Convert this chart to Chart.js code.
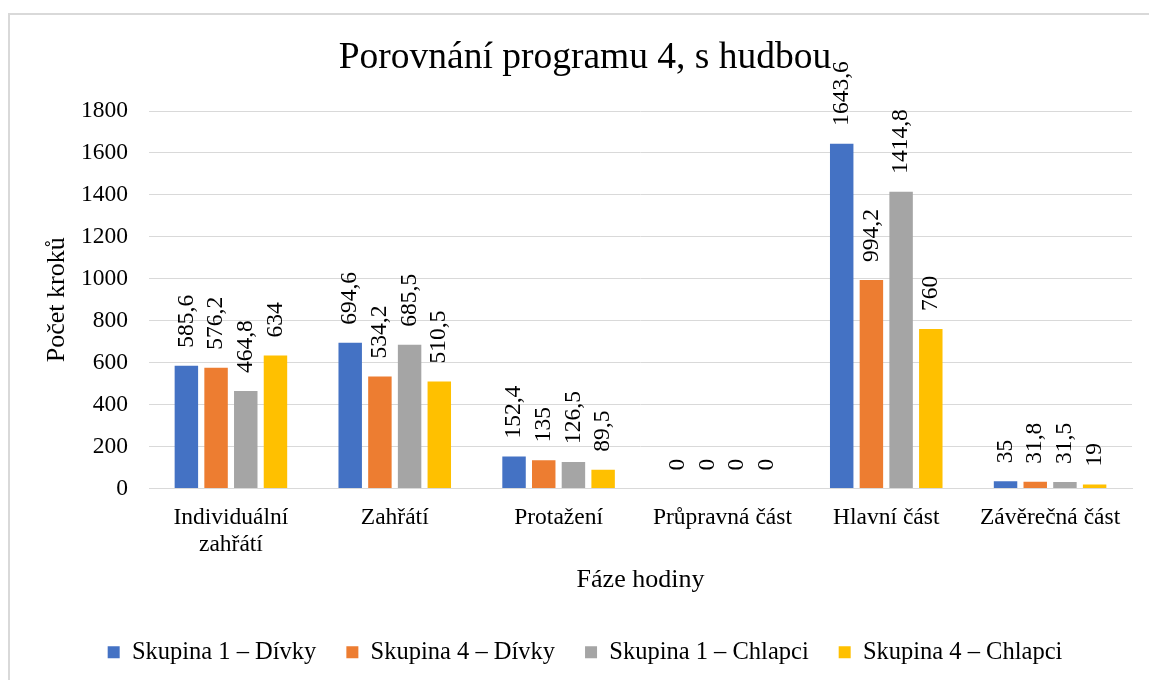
<!DOCTYPE html>
<html lang="cs">
<head>
<meta charset="utf-8">
<title>Porovnání programu 4, s hudbou</title>
<script src="https://cdn.jsdelivr.net/npm/chart.js@4.4.0/dist/chart.umd.min.js"></script>
<style>
  html, body { margin: 0; padding: 0; background: #fff; overflow: hidden; }
  #frame { position: absolute; left: 8px; top: 13px; width: 1160px; height: 700px; border: 2px solid #d9d9d9; }
  #chart { position: absolute; left: 9px; top: 14px; }
</style>
</head>
<body>
<div id="frame"></div>
<canvas id="chart" width="1152" height="666"></canvas>
<script>
// fáze hodiny a průměrný počet kroků pro jednotlivé skupiny
const phases = [["Individuální", "zahřátí"], "Zahřátí", "Protažení", "Průpravná část", "Hlavní část", "Závěrečná část"];
const girls1 = [585.6, 694.6, 152.4, 0, 1643.6, 35];
const girls4 = [576.2, 534.2, 135, 0, 994.2, 31.8];
const boys1 = [464.8, 685.5, 126.5, 0, 1414.8, 31.5];
const boys4 = [634, 510.5, 89.5, 0, 760, 19];
const seriesNames = ["Skupina 1 – Dívky", "Skupina 4 – Dívky", "Skupina 1 – Chlapci", "Skupina 4 – Chlapci"];
const seriesColors = ["#4472C4", "#ED7D31", "#A5A5A5", "#FFC000"];
const yMin = 0, yMax = 1800, yStep = 200;

const FONT = "'Liberation Serif', 'Times New Roman', serif";
Chart.defaults.font.family = FONT;
Chart.defaults.color = "#000";

// hodnoty nad sloupci, otočené o 90°
const barValueLabels = {
  id: "barValueLabels",
  afterDatasetsDraw(chart) {
    const ctx = chart.ctx;
    ctx.save();
    ctx.font = "23.5px " + FONT;
    ctx.fillStyle = "#000";
    ctx.textAlign = "left";
    ctx.textBaseline = "middle";
    chart.data.datasets.forEach((ds, i) => {
      chart.getDatasetMeta(i).data.forEach((bar, j) => {
        const txt = String(ds.data[j]).replace(".", ",");
        ctx.save();
        ctx.translate(bar.x, bar.y - 18);
        ctx.rotate(-Math.PI / 2);
        ctx.fillText(txt, 0, 0);
        ctx.restore();
      });
    });
    ctx.restore();
  }
};

const allSeries = [girls1, girls4, boys1, boys4];

new Chart(document.getElementById("chart"), {
  type: "bar",
  data: {
    labels: phases,
    datasets: allSeries.map((values, i) => ({
      label: seriesNames[i],
      data: values,
      backgroundColor: seriesColors[i],
      yAxisID: "y",
      categoryPercentage: 0.725,
      barPercentage: 0.79
    }))
  },
  options: {
    responsive: false,
    animation: false,
    devicePixelRatio: 1,
    layout: { padding: { left: 0, right: 0, top: 0, bottom: 5.5 } },
    plugins: {
      title: {
        display: true,
        text: "Porovnání programu 4, s hudbou",
        font: { size: 37.5, weight: "normal" },
        padding: { top: 22, bottom: 30 }
      },
      legend: {
        position: "bottom",
        labels: { boxWidth: 12, boxHeight: 12, padding: 30, font: { size: 24.5 } }
      },
      tooltip: { enabled: false }
    },
    scales: {
      x: {
        grid: { display: false, drawTicks: false },
        border: { color: "#d9d9d9" },
        ticks: { padding: 16, font: { size: 23.5, lineHeight: 1.15 }, maxRotation: 0 },
        title: { display: true, text: "Fáze hodiny", font: { size: 26 }, padding: { top: 0, bottom: 14 } },
        afterFit(scale) { scale.height = 121.5; }
      },
      y: {
        min: yMin,
        max: yMax,
        grid: { color: "#d9d9d9", drawTicks: false },
        border: { display: false },
        ticks: { stepSize: yStep, padding: 21, font: { size: 23.5 }, callback: (v) => String(v) },
        title: { display: true, text: "Počet kroků", font: { size: 26 }, padding: { top: 33, bottom: 0 } },
        afterFit(scale) { scale.width = 140; }
      },
      // prázdný okraj vpravo, aby nadpis i legenda zůstaly na středu celého grafu
      gap: {
        type: "linear",
        position: "right",
        grid: { display: false, drawTicks: false },
        border: { display: false },
        ticks: { display: false },
        afterFit(scale) { scale.width = 29; }
      }
    }
  },
  plugins: [barValueLabels]
});
</script>
</body>
</html>
